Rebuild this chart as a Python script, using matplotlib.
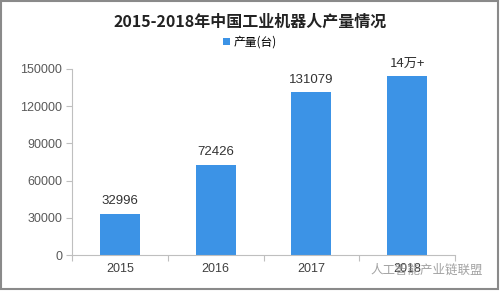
import matplotlib.pyplot as plt
from matplotlib.patches import Rectangle

plt.rcParams['font.family'] = ['Liberation Sans', 'Noto Sans CJK SC', 'DejaVu Sans']

# data
years = ["2015", "2016", "2017", "2018"]
output = [32996, 72426, 131079, 144000]
value_labels = ["32996", "72426", "131079", "14万+"]
yticks = [0, 30000, 60000, 90000, 120000, 150000]

fig = plt.figure(figsize=(5, 2.92), dpi=100)
ax = fig.add_axes([0.144, 0.1267, 0.766, 0.637])

x = range(len(years))
ax.bar(x, output, width=0.42, color="#3C93E6", label="产量(台)", zorder=2)

for xi, v, lab in zip(x, output, value_labels):
    fam = ['Noto Sans CJK SC'] if "万" in lab else ['Liberation Sans']
    ax.text(xi, v + 5500, lab, ha="center", va="bottom", fontsize=9.5,
            color="#333333", family=fam)

ax.set_xlim(-0.5, len(years) - 0.5)
ax.set_ylim(0, 150000)
ax.set_yticks(yticks)
ax.set_yticklabels([str(t) for t in yticks])
ax.set_xticks(list(x))
ax.set_xticklabels(years)

# category boundary ticks on x axis
ax.set_xticks([i - 0.5 for i in range(len(years) + 1)], minor=True)
ax.tick_params(axis="x", which="major", length=0, pad=6, labelsize=9, labelcolor="#404040")
ax.tick_params(axis="x", which="minor", length=4, color="#BFBFBF", width=0.8)
ax.tick_params(axis="y", length=4, color="#BFBFBF", width=0.8, pad=3,
               labelsize=9, labelcolor="#595959")

for s in ["top", "right"]:
    ax.spines[s].set_visible(False)
for s in ["left", "bottom"]:
    ax.spines[s].set_color("#BFBFBF")
    ax.spines[s].set_linewidth(0.8)

fig.text(0.5, 0.925, "2015-2018年中国工业机器人产量情况", ha="center", va="center",
         fontsize=11.5, fontweight="bold", color="#222222",
         family=['Noto Sans CJK SC', 'DejaVu Sans'])
ax.legend(loc="center", bbox_to_anchor=(0.5, 0.855), bbox_transform=fig.transFigure,
          frameon=False, handlelength=0.6, handleheight=0.6,
          handletextpad=0.3, borderaxespad=0, borderpad=0,
          prop={'family': 'Noto Sans CJK SC', 'size': 8.5})

# watermark caption bottom right
fig.text(0.965, 0.075, "人工智能产业链联盟", ha="right", va="center", fontsize=9,
         color="#8C8C8C", alpha=0.8, family=['Noto Sans CJK SC'])

# outer frame
fig.patches.append(Rectangle((0.002, 0.01), 0.994, 0.985, transform=fig.transFigure,
                             fill=False, edgecolor="#8A8A8A", linewidth=1.5))

fig.savefig("out.png", dpi=100)
